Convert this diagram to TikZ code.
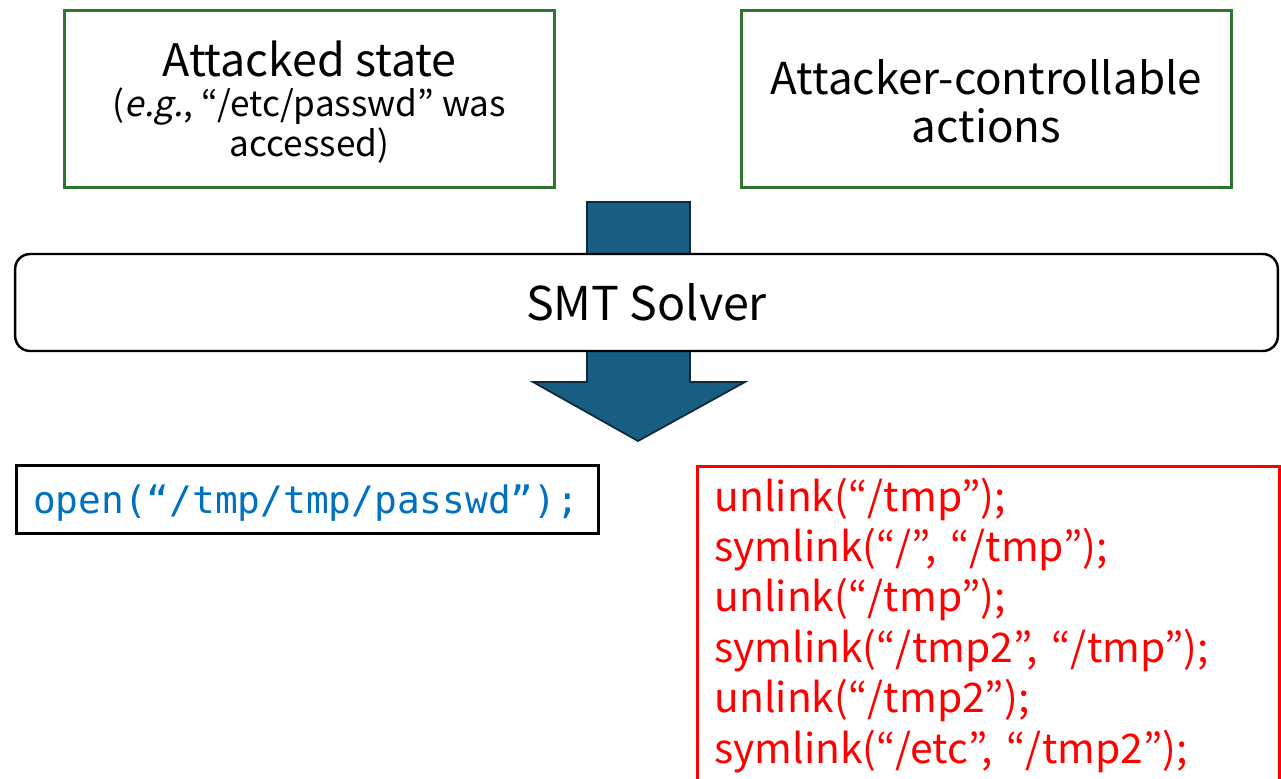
\documentclass[tikz,border=0pt]{standalone}
\usepackage{fontspec}
\setmainfont{Noto Sans CJK JP}[AutoFakeSlant=0.2]
\newfontfamily\codefont{DejaVu Sans Mono}
\usepackage{xcolor}
\usetikzlibrary{calc}
\usetikzlibrary{positioning}

\definecolor{boxgreen}{RGB}{46,117,50}
\definecolor{arrowblue}{RGB}{24,94,130}
\definecolor{arrowedge}{RGB}{14,42,58}
\definecolor{codeblue}{RGB}{0,112,192}
\definecolor{codered}{RGB}{255,0,0}

\begin{document}
\begin{tikzpicture}[x=0.02cm, y=-0.02cm]

        \useasboundingbox (0, 0) rectangle (1281, 778);

        % Styles of the boxes
        \tikzset{
            goalbox/.style={draw=boxgreen, line width=1.7pt, minimum width=9.82cm,
                minimum height=3.56cm, inner sep=0pt},
            goaltext/.style={align=center, inner sep=0pt},
            solverbox/.style={draw=black, line width=1.4pt, fill=white,
                rounded corners=0.3cm, minimum width=25.26cm,
                minimum height=1.94cm},
            callbox/.style={draw=black, line width=1.9pt, minimum width=11.64cm,
                minimum height=1.36cm, anchor=north west},
            seqbox/.style={draw=codered, line width=1.9pt, anchor=north west,
                align=left, inner xsep=0.34cm, inner ysep=0.22cm,
                text width=10.96cm}
        }

        % Inputs of the solver
        \node (state) [goalbox] at (309.5, 99) {};
        \node (statetext) [goaltext, font=\fontsize{20}{21}\selectfont]
        at ($(state.center)+(0, 3)$)
        {{\fontsize{25.5}{27}\selectfont Attacked state}\\[2pt]
         (\textit{e.g.}, “/etc/passwd” was\\accessed)};

        \node (actions) [goalbox] at (986.5, 99) {};
        \node (actionstext) [goaltext, font=\fontsize{25}{27.5}\selectfont]
        at ($(actions.center)+(0, 2)$) {Attacker-controllable\\actions};

        % Block arrow through the solver
        \draw[fill=arrowblue, draw=arrowedge, line width=1pt]
            (587, 202) -- (690, 202) -- (690, 382) -- (745, 382)
            -- (638, 441) -- (533, 382) -- (587, 382) -- cycle;

        \node (solver) [solverbox, font=\fontsize{26.5}{29}\selectfont]
        at (646.5, 302.5) {SMT Solver};

        % Outputs of the solver
        \node (call) [callbox] at (15, 464) {};
        \node (callcode) [anchor=west, text=codeblue,
            font=\codefont\fontsize{21.5}{24}\selectfont]
        at ($(call.west)+(12, 3)$) {open(“/tmp/tmp/passwd”);};

        \node (seq) [seqbox, text=codered, font=\fontsize{23.2}{28.7}\selectfont]
        at (696, 465)
        {unlink(“/tmp”);\\
         symlink(“/”, “/tmp”);\\
         unlink(“/tmp”);\\
         symlink(“/tmp2”, “/tmp”);\\
         unlink(“/tmp2”);\\
         symlink(“/etc”, “/tmp2”);};

\end{tikzpicture}
\end{document}
